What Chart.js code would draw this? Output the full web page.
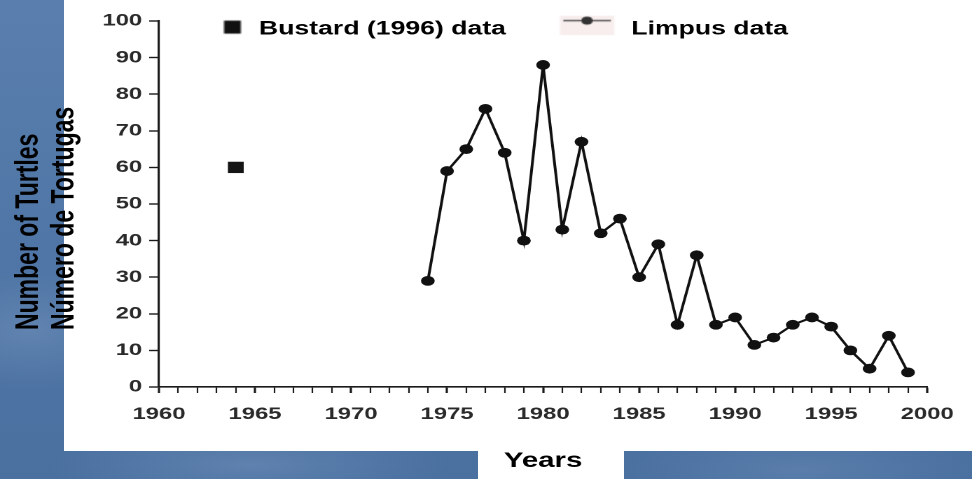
<!DOCTYPE html>
<html>
<head>
<meta charset="utf-8">
<script src="https://cdn.jsdelivr.net/npm/chart.js@4.4.1/dist/chart.umd.min.js"></script>
<style>
  html, body { margin: 0; padding: 0; }
  body {
    width: 972px; height: 479px; overflow: hidden; position: relative;
    background:
      radial-gradient(ellipse 120px 60px at 30px 330px, rgba(120,150,190,0.45), transparent),
      radial-gradient(ellipse 200px 40px at 250px 465px, rgba(125,155,195,0.4), transparent),
      radial-gradient(ellipse 180px 40px at 800px 470px, rgba(120,150,190,0.35), transparent),
      linear-gradient(180deg, #5a7fae 0%, #4f76a6 50%, #4a70a0 100%);
  }
  #panel { position: absolute; left: 64px; top: 0; width: 908px; height: 451px; background: #fff; }
  #yearsBox { position: absolute; left: 478px; top: 451px; width: 146px; height: 28px; background: #fff; }
  #wrap { position: absolute; left: 0; top: 0; width: 694px; height: 479px;
          transform: scaleX(1.4006); transform-origin: 0 0; }
</style>
</head>
<body>
<div id="panel"></div>
<div id="yearsBox"></div>
<div id="wrap"><canvas id="myChart" width="694" height="479"></canvas></div>
<script>
// data
const limpusYears = [1974, 1975, 1976, 1977, 1978, 1979, 1980, 1981, 1982, 1983, 1984, 1985, 1986,
                     1987, 1988, 1989, 1990, 1991, 1992, 1993, 1994, 1995, 1996, 1997, 1998, 1999];
const limpusCounts = [29, 59, 65, 76, 64, 40, 88, 43, 67, 42, 46, 30, 39,
                      17, 36, 17, 19, 11.5, 13.5, 17, 19, 16.5, 10, 5, 14, 4];
const bustardYears = [1964];
const bustardCounts = [60];
const xLabelYears = [1960, 1965, 1970, 1975, 1980, 1985, 1990, 1995, 2000];
const yTitleLines = ['Number of Turtles', 'Número de Tortugas'];
const legendNames = ['Bustard (1996) data', 'Limpus data'];

const tickFont = '"Liberation Sans", Arial, sans-serif';

function makeBustardIcon() {
    const c = document.createElement('canvas');
    c.width = 76; c.height = 44;
    const g = c.getContext('2d');
    g.fillStyle = '#111';
    g.fillRect(60.5, 13.5, 12, 13);
    return c;
}

function makeLimpusIcon() {
    const c = document.createElement('canvas');
    c.width = 76; c.height = 44;
    const g = c.getContext('2d');
    g.fillStyle = '#f8eeee';
    g.fillRect(34.4, 0, 39, 28);
    g.strokeStyle = '#555';
    g.lineWidth = 1.5;
    g.beginPath();
    g.moveTo(36.9, 13.5);
    g.lineTo(70.9, 13.5);
    g.stroke();
    g.fillStyle = '#333';
    g.beginPath();
    g.arc(53.9, 13.5, 4, 0, Math.PI * 2);
    g.fill();
    return c;
}

const legendIcons = [makeBustardIcon(), makeLimpusIcon()];

// rotated two-line y title, lines share a bottom start point
const yTitlePlugin = {
    id: 'yTitle',
    afterDraw(chart) {
        const ctx = chart.ctx;
        const xs = [20.7, 46.4];
        ctx.save();
        ctx.fillStyle = '#000';
        ctx.font = 'bold 23px ' + tickFont;
        ctx.textAlign = 'left';
        ctx.textBaseline = 'middle';
        yTitleLines.forEach(function (line, i) {
            ctx.save();
            ctx.translate(xs[i], 330);
            ctx.rotate(-Math.PI / 2);
            ctx.fillText(line, 0, 0);
            ctx.restore();
        });
        ctx.restore();
    }
};

// legend sits over the top of the plot: keep it thin for layout, then give it room to draw
const legendRoomPlugin = {
    id: 'legendRoom',
    afterLayout(chart) {
        const l = chart.legend;
        if (l) { l.bottom = l.top + 40; l.height = 40; }
    }
};

const ctx = document.getElementById('myChart').getContext('2d');
const myChart = new Chart(ctx, {
    type: 'scatter',
    data: {
        datasets: [{
            label: legendNames[0],
            data: bustardYears.map((y, i) => ({ x: y, y: bustardCounts[i] })),
            showLine: false,
            pointStyle: 'rect',
            pointRadius: 8,
            backgroundColor: '#151515',
            borderColor: '#151515',
            borderWidth: 0
        }, {
            label: legendNames[1],
            data: limpusYears.map((y, i) => ({ x: y, y: limpusCounts[i] })),
            showLine: true,
            borderColor: '#111',
            borderWidth: 2,
            pointStyle: 'circle',
            pointRadius: 4.9,
            backgroundColor: '#111',
            pointBorderWidth: 0
        }]
    },
    options: {
        responsive: false,
        devicePixelRatio: 2,
        animation: false,
        events: [],
        layout: { padding: { left: 0, right: 32, top: 15.6, bottom: 0 } },
        plugins: {
            tooltip: { enabled: false },
            legend: {
                position: 'top',
                align: 'center',
                maxHeight: 5.4,
                labels: {
                    usePointStyle: true,
                    pointStyleWidth: 76,
                    padding: 4,
                    color: '#000',
                    font: { family: tickFont, size: 19, weight: 'bold' },
                    generateLabels: function (chart) {
                        return legendNames.map((name, i) => ({
                            text: name,
                            pointStyle: legendIcons[i],
                            fillStyle: '#000',
                            strokeStyle: '#000',
                            lineWidth: 0,
                            hidden: false,
                            datasetIndex: i
                        }));
                    }
                }
            }
        },
        scales: {
            x: {
                type: 'linear',
                min: 1960,
                max: 2000,
                afterFit: function (scale) { scale.height = 92; },
                border: { color: '#1a1a1a', width: 1.6 },
                grid: {
                    drawOnChartArea: false,
                    tickLength: 6,
                    tickColor: '#1a1a1a',
                    tickWidth: (c) => (c.tick && c.tick.value % 5 === 0) ? 1.6 : 1.1
                },
                ticks: {
                    stepSize: 1,
                    autoSkip: false,
                    maxRotation: 0,
                    padding: 11,
                    color: '#2a2a2a',
                    font: { family: tickFont, size: 17, weight: 'bold' },
                    callback: (v) => xLabelYears.includes(v) ? String(v) : ''
                },
                title: {
                    display: true,
                    text: 'Years',
                    color: '#000',
                    font: { family: tickFont, size: 21, weight: 'bold' },
                    padding: { top: 0, bottom: 5 }
                }
            },
            y: {
                min: 0,
                max: 100,
                afterFit: function (scale) { scale.width = 113.5; },
                border: { color: '#1a1a1a', width: 1.6 },
                grid: {
                    drawOnChartArea: false,
                    tickLength: 7,
                    tickColor: '#1a1a1a',
                    tickWidth: 1.4
                },
                ticks: {
                    stepSize: 10,
                    padding: 5,
                    color: '#2a2a2a',
                    font: { family: tickFont, size: 17, weight: 'bold' }
                }
            }
        }
    },
    plugins: [yTitlePlugin, legendRoomPlugin]
});
</script>
</body>
</html>
